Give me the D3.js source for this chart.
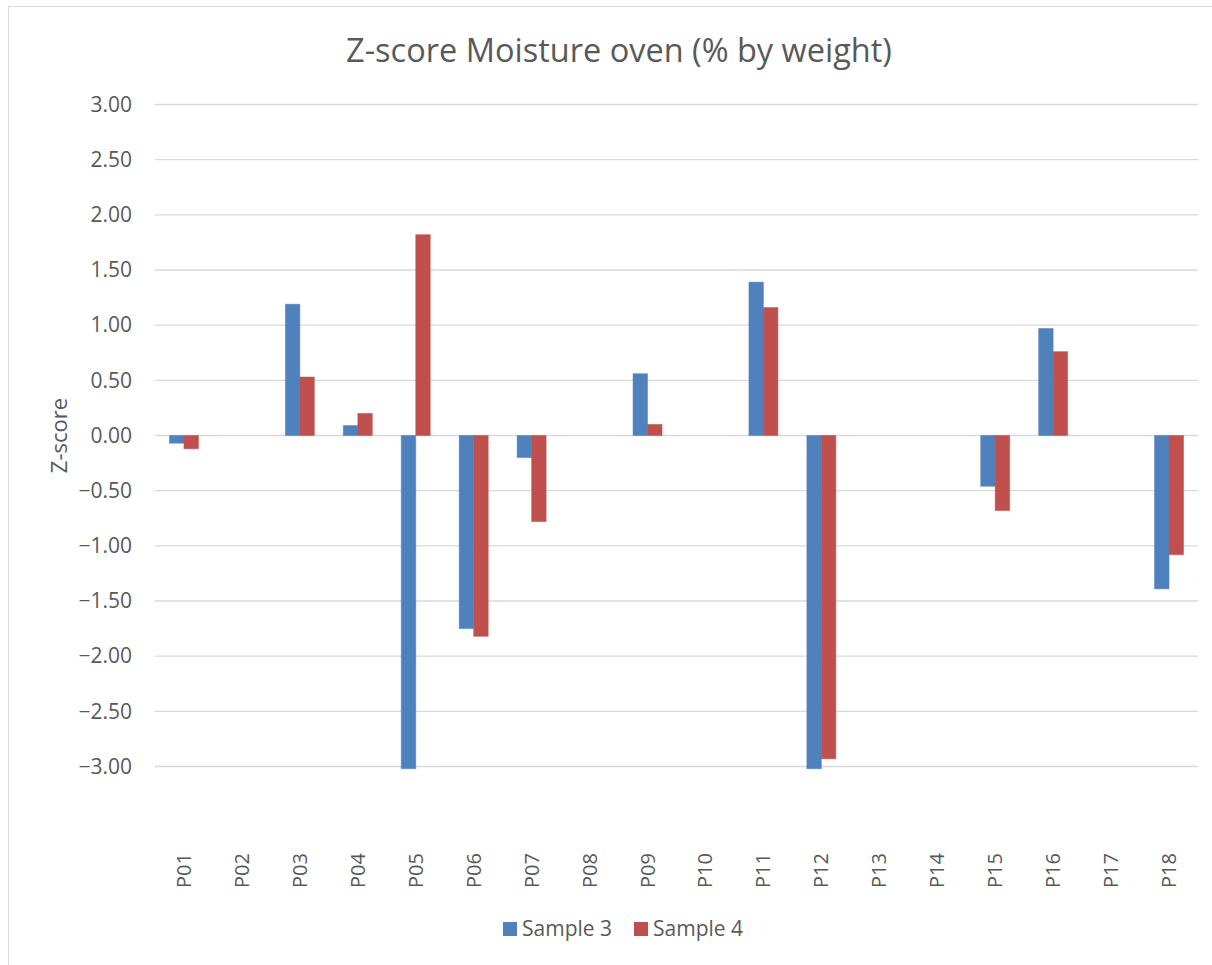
<!DOCTYPE html>
<html>
<head>
<meta charset="utf-8">
<script src="https://cdn.jsdelivr.net/npm/d3@7"></script>
<style>
  body { margin: 0; background: #fff; }
  text { font-family: "Open Sans", "Liberation Sans", sans-serif; fill: #595959; }
</style>
</head>
<body>
<div id="chart"></div>
<script>
var participants = ["P01", "P02", "P03", "P04", "P05", "P06", "P07", "P08", "P09",
                    "P10", "P11", "P12", "P13", "P14", "P15", "P16", "P17", "P18"];
var seriesNames = ["Sample 3", "Sample 4"];
// null = no result reported
var sample3 = [-0.07, null, 1.19, 0.09, -3.02, -1.75, -0.20, null, 0.56,
               null, 1.39, -3.02, null, null, -0.46, 0.97, null, -1.39];
var sample4 = [-0.12, null, 0.53, 0.20, 1.82, -1.82, -0.78, null, 0.10,
               null, 1.16, -2.93, null, null, -0.68, 0.76, null, -1.08];
var yTicks = [3, 2.5, 2, 1.5, 1, 0.5, 0, -0.5, -1, -1.5, -2, -2.5, -3];
var colors = ["#4F81BD", "#C0504D"];

var W = 1212, H = 965;
var margin = {top: 104.5, right: 14, bottom: 198, left: 155};
var width = W - margin.left - margin.right;
var height = H - margin.top - margin.bottom;

var svg = d3.select("#chart")
    .append("svg")
    .attr("width", W)
    .attr("height", H);

// chart frame
svg.append("rect")
    .attr("x", 8.5).attr("y", 6.5)
    .attr("width", W).attr("height", H)
    .attr("fill", "none")
    .attr("stroke", "#D9D9D9");

svg.append("text")
    .attr("x", 619)
    .attr("y", 62)
    .attr("text-anchor", "middle")
    .style("font-size", "32.5px")
    .text("Z-score Moisture oven (% by weight)");

var g = svg.append("g")
    .attr("transform", "translate(" + margin.left + "," + margin.top + ")");

var x = d3.scaleBand()
    .domain(participants)
    .range([0, width])
    .paddingInner(0.5)
    .paddingOuter(0.25);

var x1 = d3.scaleBand()
    .domain(seriesNames)
    .range([0, x.bandwidth()]);

var y = d3.scaleLinear()
    .domain([-3, 3])
    .range([height - 0.5, 0]);

// gridlines
g.selectAll(".grid")
    .data(yTicks)
    .enter().append("line")
    .attr("class", "grid")
    .attr("x1", 0)
    .attr("x2", width)
    .attr("y1", function (d) { return y(d); })
    .attr("y2", function (d) { return y(d); })
    .attr("stroke", "#D9D9D9")
    .attr("stroke-width", 1.3);

// y axis labels
var yAxis = d3.axisLeft(y)
    .tickValues(yTicks)
    .tickFormat(d3.format(".2f"))
    .tickSize(0)
    .tickPadding(23);
g.append("g")
    .call(yAxis)
    .call(function (s) { s.select(".domain").remove(); })
    .selectAll("text")
    .style("font-size", "21px")
    .attr("fill", "#595959");

svg.append("text")
    .attr("transform", "translate(67," + (margin.top + y(0)) + ") rotate(-90)")
    .attr("text-anchor", "middle")
    .style("font-size", "22px")
    .text("Z-score");

// bars
var rows = participants.map(function (p, i) {
    return {p: p, values: [sample3[i], sample4[i]]};
});

var groups = g.selectAll(".grp")
    .data(rows)
    .enter().append("g")
    .attr("class", "grp")
    .attr("transform", function (d) { return "translate(" + x(d.p) + ",0)"; });

groups.selectAll("rect")
    .data(function (d) {
        return d.values.map(function (v, k) { return {s: seriesNames[k], k: k, v: v}; })
            .filter(function (e) { return e.v !== null; });
    })
    .enter().append("rect")
    .attr("x", function (d) { return x1(d.s); })
    .attr("width", x1.bandwidth())
    .attr("y", function (d) { return Math.min(y(d.v), y(0)); })
    .attr("height", function (d) { return Math.abs(y(d.v) - y(0)); })
    .attr("fill", function (d) { return colors[d.k]; })
    .attr("stroke", function (d) { return colors[d.k]; })
    .attr("stroke-opacity", 0.5)
    .attr("stroke-width", 1);

// x axis labels, rotated
var xAxis = d3.axisBottom(x).tickSize(0).tickPadding(0);
var xg = g.append("g")
    .attr("transform", "translate(0," + (height + 121) + ")")
    .call(xAxis);
xg.select(".domain").remove();
xg.selectAll("text")
    .style("font-size", "20px")
    .attr("fill", "#595959")
    .attr("text-anchor", "start")
    .attr("dy", "0.35em")
    .attr("y", 0)
    .attr("transform", "rotate(-90)");

// legend
var legend = svg.append("g")
    .attr("transform", "translate(503,922)");
var items = legend.selectAll(".item")
    .data(seriesNames)
    .enter().append("g")
    .attr("class", "item")
    .attr("transform", function (d, i) { return "translate(" + (i * 131) + ",0)"; });
items.append("rect")
    .attr("width", 14)
    .attr("height", 14)
    .attr("fill", function (d, i) { return colors[i]; });
items.append("text")
    .attr("x", 19)
    .attr("y", 7)
    .attr("dy", "0.35em")
    .style("font-size", "21px")
    .text(function (d) { return d; });
</script>
</body>
</html>
